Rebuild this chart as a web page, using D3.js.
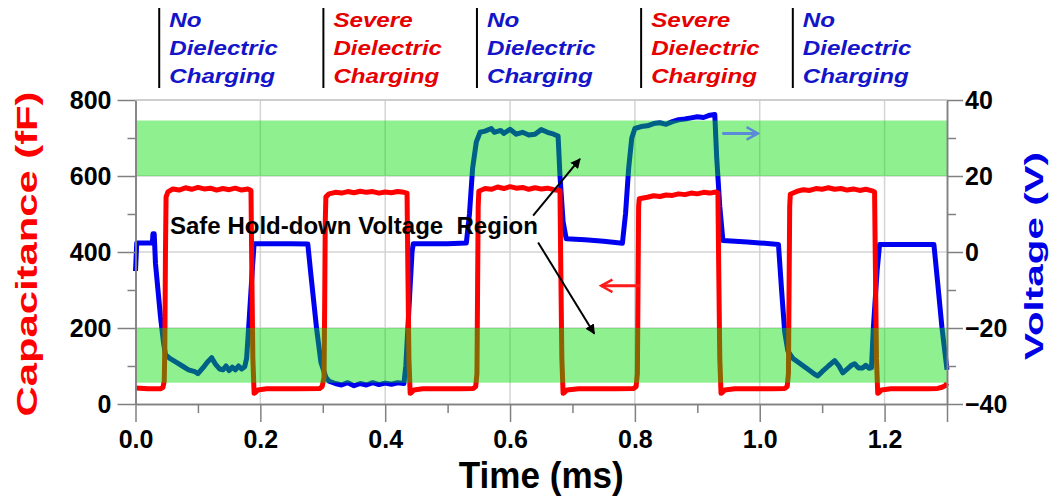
<!DOCTYPE html>
<html>
<head>
<meta charset="utf-8">
<script src="https://cdn.jsdelivr.net/npm/d3@7"></script>
<style>
  body { margin: 0; background: #fff; }
  text { font-family: "Liberation Sans", Arial, sans-serif; font-weight: bold; }
</style>
</head>
<body>
<div id="chart"></div>
<script>
// ---- data ----
var timeTicks = [0, 0.2, 0.4, 0.6, 0.8, 1.0, 1.2, 1.3];
var timeMinor = [0.1, 0.3, 0.5, 0.7, 0.9, 1.1];
var capTicks = [0, 200, 400, 600, 800];
var capMinor = [100, 300, 500, 700];
var voltTicks = [-40, -20, 0, 20, 40];
var voltMinor = [-30, -10, 10, 30];

// [time (ms), capacitance (fF)]
var capacitance = [
  [0,42],[0.02,40],[0.04,40],[0.044,44],[0.046,60],[0.047,150],[0.048,400],[0.049,545],[0.052,558],[0.06,566],[0.07,563],[0.08,569],[0.09,565],[0.10,570],[0.11,566],[0.12,568],[0.13,563],[0.14,567],[0.15,564],[0.16,568],[0.17,563],[0.18,566],[0.185,562],
  [0.186,400],[0.188,120],[0.190,28],[0.192,30],[0.196,37],[0.21,40],[0.26,40],[0.295,41],[0.299,46],[0.302,70],[0.303,250],[0.304,480],[0.305,545],[0.31,553],[0.32,557],[0.33,555],[0.34,559],[0.35,556],[0.36,560],[0.37,557],[0.38,559],[0.39,555],[0.40,558],[0.41,556],[0.42,559],[0.43,557],[0.435,555],
  [0.436,400],[0.438,120],[0.440,28],[0.442,30],[0.446,37],[0.46,40],[0.52,40],[0.541,41],[0.545,46],[0.547,80],[0.548,300],[0.549,520],[0.550,560],[0.56,567],[0.57,565],[0.58,571],[0.59,567],[0.60,572],[0.61,568],[0.62,570],[0.63,565],[0.64,569],[0.65,566],[0.66,568],[0.67,564],[0.68,562],
  [0.681,400],[0.683,120],[0.685,28],[0.687,30],[0.691,37],[0.71,40],[0.77,40],[0.798,41],[0.802,46],[0.804,80],[0.805,300],[0.806,520],[0.807,540],[0.82,544],[0.83,548],[0.84,546],[0.85,550],[0.86,549],[0.87,553],[0.88,551],[0.89,555],[0.90,553],[0.91,557],[0.92,555],[0.93,558],[0.933,556],
  [0.934,400],[0.936,120],[0.938,28],[0.940,30],[0.944,37],[0.96,40],[1.02,40],[1.040,41],[1.044,46],[1.046,80],[1.047,300],[1.048,520],[1.049,552],[1.06,560],[1.07,564],[1.08,562],[1.09,567],[1.10,565],[1.11,569],[1.12,565],[1.13,567],[1.14,563],[1.15,566],[1.16,562],[1.17,565],[1.18,561],[1.184,558],
  [1.185,400],[1.187,120],[1.189,28],[1.191,30],[1.195,37],[1.21,40],[1.27,40],[1.285,41],[1.292,44],[1.297,48],[1.3,55]
];

// [time (ms), voltage (V)]
var voltage = [
  [0,-5],[0.002,2.4],[0.015,2.4],[0.027,2.4],[0.028,4.8],[0.030,4.8],[0.032,-3],[0.040,-17],[0.045,-24],[0.048,-27],[0.055,-28],[0.065,-29],[0.075,-30],[0.085,-31],[0.095,-31.5],[0.100,-32],[0.108,-30.5],[0.115,-29],[0.122,-27.8],[0.128,-29.5],[0.135,-30.8],[0.14,-31],[0.145,-30],[0.15,-31.2],[0.155,-30.3],[0.16,-31],[0.165,-30],[0.17,-30.8],[0.175,-30.2],[0.178,-28],[0.182,-18],[0.187,-5],[0.190,2.2],
  [0.22,2.2],[0.25,2.2],[0.276,2.1],[0.281,-6],[0.290,-20],[0.297,-29],[0.305,-33],[0.31,-34],[0.32,-34.6],[0.33,-35],[0.34,-34.4],[0.35,-35.2],[0.36,-34.6],[0.37,-35],[0.38,-34.4],[0.39,-34.9],[0.40,-34.5],[0.41,-34.8],[0.42,-34.4],[0.43,-34.6],[0.433,-30],[0.438,-15],[0.443,0],[0.445,2.2],
  [0.50,2.2],[0.530,2.4],[0.535,10],[0.540,22],[0.546,29],[0.552,31.5],[0.56,31.8],[0.57,32.5],[0.575,31.5],[0.585,32],[0.59,31.2],[0.60,32.3],[0.61,31],[0.62,31.5],[0.63,30.8],[0.64,31],[0.65,32.2],[0.66,31.5],[0.67,31],[0.677,30.5],[0.680,20],[0.685,8],[0.690,3.5],
  [0.72,3.2],[0.75,2.8],[0.78,2.3],[0.785,10],[0.79,22],[0.795,30],[0.80,32.5],[0.81,33],[0.82,33.2],[0.83,33.8],[0.84,34],[0.85,33.6],[0.86,34.3],[0.87,34.8],[0.88,35],[0.89,35.3],[0.90,35.6],[0.91,35.4],[0.92,36],[0.928,36.2],[0.931,25],[0.936,12],[0.941,3.0],
  [0.98,2.6],[1.00,2.4],[1.030,2.0],[1.035,-10],[1.040,-21],[1.045,-26],[1.053,-28],[1.06,-28.8],[1.07,-30],[1.08,-31.2],[1.088,-32.2],[1.093,-32.6],[1.10,-31.5],[1.11,-30],[1.12,-28.6],[1.127,-30],[1.133,-31.8],[1.14,-30.8],[1.147,-29.8],[1.152,-29.4],[1.158,-30.5],[1.165,-30.5],[1.17,-29.8],[1.175,-30.6],[1.179,-30.5],[1.182,-20],[1.188,-5],[1.192,2.0],
  [1.25,2.0],[1.279,2.0],[1.285,-8],[1.292,-20],[1.3,-31]
];

// safe hold-down voltage bands (V)
var safeBands = [[20, 34.6], [-34.4, -20]];

// charging phases above the plot: divider time (ms) + label
var phaseTimes = [0.038, 0.301, 0.547, 0.81, 1.053];
var phaseLabels = ["No", "Severe", "No", "Severe", "No"];
var phaseColors = ["#1414c8", "#e60000", "#1414c8", "#e60000", "#1414c8"];

// ---- layout ----
var W = 1064, H = 499;
var x = d3.scaleLinear().domain([0, 1.3]).range([135.5, 947]);
var yC = d3.scaleLinear().domain([0, 800]).range([404, 100]);
var yV = d3.scaleLinear().domain([-40, 40]).range([404, 100]);

var svg = d3.select("#chart").append("svg")
    .attr("width", W).attr("height", H)
    .style("display", "block");

var defs = svg.append("defs");
defs.append("marker").attr("id", "headBlack")
    .attr("viewBox", "0 0 10 10").attr("refX", 9).attr("refY", 5)
    .attr("markerWidth", 5).attr("markerHeight", 5).attr("orient", "auto")
  .append("path").attr("d", "M0,0L10,5L0,10z").attr("fill", "#000");
defs.append("marker").attr("id", "headRed")
    .attr("viewBox", "0 0 12 12").attr("refX", 10).attr("refY", 6)
    .attr("markerWidth", 5).attr("markerHeight", 5).attr("orient", "auto")
  .append("path").attr("d", "M1,1L10,6L1,11").attr("fill", "none")
    .attr("stroke", "#ff1a1a").attr("stroke-width", 2);
defs.append("marker").attr("id", "headBlue")
    .attr("viewBox", "0 0 12 12").attr("refX", 10).attr("refY", 6)
    .attr("markerWidth", 5).attr("markerHeight", 5).attr("orient", "auto")
  .append("path").attr("d", "M1,1L10,6L1,11").attr("fill", "none")
    .attr("stroke", "#5b8ad8").attr("stroke-width", 2);

// grid
svg.append("g").selectAll("line").data(timeTicks.filter(function (d) { return d > 0 && d < 1.3; }))
  .enter().append("line")
    .attr("x1", function (d) { return x(d); }).attr("x2", function (d) { return x(d); })
    .attr("y1", yC(800)).attr("y2", yC(0))
    .attr("stroke", "#d4d4d4").attr("stroke-width", 1.5);
svg.append("g").selectAll("line").data(capTicks.filter(function (d) { return d > 0; }))
  .enter().append("line")
    .attr("x1", x(0)).attr("x2", x(1.3))
    .attr("y1", function (d) { return yC(d); }).attr("y2", function (d) { return yC(d); })
    .attr("stroke", "#d4d4d4").attr("stroke-width", 1.5);

// series
var line = d3.line()
    .x(function (d) { return x(d[0]); });

svg.append("path").datum(voltage)
    .attr("d", line.y(function (d) { return yV(d[1]); }))
    .attr("fill", "none").attr("stroke", "#0000f0")
    .attr("stroke-width", 5).attr("stroke-linejoin", "round");

svg.append("path").datum(capacitance)
    .attr("d", line.y(function (d) { return yC(d[1]); }))
    .attr("fill", "none").attr("stroke", "#ff0000")
    .attr("stroke-width", 5).attr("stroke-linejoin", "round");

// green bands drawn over the traces (semi transparent)
svg.append("g").selectAll("rect").data(safeBands)
  .enter().append("rect")
    .attr("x", x(0)).attr("width", x(1.3) - x(0))
    .attr("y", function (d) { return yV(d[1]); })
    .attr("height", function (d) { return yV(d[0]) - yV(d[1]); })
    .attr("fill", "#00dc00").attr("fill-opacity", 0.44);

// axes
function styleAxis(g) {
  g.selectAll(".domain").attr("stroke", "#808080").attr("stroke-width", 1.5);
  g.selectAll(".tick line").attr("stroke", "#808080").attr("stroke-width", 1.5);
  g.selectAll(".tick text").attr("fill", "#000").style("font-size", "25px")
    .style("font-family", "'Liberation Sans', Arial, sans-serif").style("font-weight", "bold");
}

svg.append("g").attr("transform", "translate(" + x(0) + ",0)")
    .call(d3.axisLeft(yC).tickValues(capMinor).tickSize(8).tickSizeOuter(0).tickFormat(""))
    .call(styleAxis);
svg.append("g").attr("transform", "translate(" + x(0) + ",0)")
    .call(d3.axisLeft(yC).tickValues(capTicks).tickSize(18).tickSizeOuter(0).tickPadding(6))
    .call(styleAxis);

svg.append("g").attr("transform", "translate(" + x(1.3) + ",0)")
    .call(d3.axisRight(yV).tickValues(voltMinor).tickSize(9).tickSizeOuter(0).tickFormat(""))
    .call(styleAxis);
svg.append("g").attr("transform", "translate(" + x(1.3) + ",0)")
    .call(d3.axisRight(yV).tickValues(voltTicks).tickSize(16).tickSizeOuter(0).tickPadding(2))
    .call(styleAxis);

svg.append("g").attr("transform", "translate(0," + yC(0) + ")")
    .call(d3.axisBottom(x).tickValues(timeMinor).tickSize(9).tickSizeOuter(0).tickFormat(""))
    .call(styleAxis);
svg.append("g").attr("transform", "translate(0," + yC(0) + ")")
    .call(d3.axisBottom(x).tickValues(timeTicks).tickSize(18).tickSizeOuter(0).tickPadding(8)
      .tickFormat(function (d) { return d === 1.3 ? "" : d3.format(".1f")(d); }))
    .call(styleAxis);

// top frame line
svg.append("line")
    .attr("x1", x(0)).attr("x2", x(1.3)).attr("y1", yC(800)).attr("y2", yC(800))
    .attr("stroke", "#c8c8c8").attr("stroke-width", 1.5);

// axis titles
svg.append("text")
    .attr("transform", "translate(37," + ((yC(0) + yC(800)) / 2 + 2) + ") rotate(-90)")
    .attr("text-anchor", "middle").attr("fill", "#ff0000")
    .attr("textLength", 325).attr("lengthAdjust", "spacingAndGlyphs")
    .style("font-size", "30px")
    .text("Capacitance (fF)");

svg.append("text")
    .attr("transform", "translate(1043," + 256 + ") rotate(-90)")
    .attr("text-anchor", "middle").attr("fill", "#0000e6")
    .attr("textLength", 208).attr("lengthAdjust", "spacingAndGlyphs")
    .style("font-size", "25px")
    .text("Voltage (V)");

svg.append("text")
    .attr("x", (x(0) + x(1.3)) / 2 + 0).attr("y", 488)
    .attr("text-anchor", "middle").attr("fill", "#000")
    .attr("textLength", 165).attr("lengthAdjust", "spacingAndGlyphs")
    .style("font-size", "36px")
    .text("Time (ms)");

// phase labels at the top
var phase = svg.append("g").selectAll("g").data(phaseTimes)
  .enter().append("g")
    .attr("transform", function (d) { return "translate(" + x(d) + ",0)"; });
phase.append("line")
    .attr("x1", 0).attr("x2", 0).attr("y1", 8).attr("y2", 88)
    .attr("stroke", "#000").attr("stroke-width", 2);
var phaseText = phase.append("g")
    .attr("transform", "translate(10,0) scale(1.15,1)")
  .append("text")
    .style("font-size", "21px").style("font-style", "italic")
    .attr("fill", function (d, i) { return phaseColors[i]; });
phaseText.append("tspan").attr("x", 0).attr("y", 27)
    .text(function (d, i) { return phaseLabels[i]; });
phaseText.append("tspan").attr("x", 0).attr("y", 55).text("Dielectric");
phaseText.append("tspan").attr("x", 0).attr("y", 83).text("Charging");

// "Safe Hold-down Voltage Region" with arrows to both bands
svg.append("text")
    .attr("x", x(0.0552)).attr("y", yC(447))
    .attr("fill", "#000").attr("xml:space", "preserve")
    .style("white-space", "pre")
    .attr("textLength", 368).attr("lengthAdjust", "spacingAndGlyphs")
    .style("font-size", "23px")
    .text("Safe Hold-down Voltage  Region");

svg.append("line")
    .attr("x1", x(0.637)).attr("y1", yC(496)).attr("x2", x(0.712)).attr("y2", yC(645))
    .attr("stroke", "#000").attr("stroke-width", 2).attr("marker-end", "url(#headBlack)");
svg.append("line")
    .attr("x1", x(0.645)).attr("y1", yC(425)).attr("x2", x(0.735)).attr("y2", yC(185))
    .attr("stroke", "#000").attr("stroke-width", 2).attr("marker-end", "url(#headBlack)");

// axis-pointer arrows
svg.append("line")
    .attr("x1", x(0.808)).attr("y1", yC(311)).attr("x2", x(0.746)).attr("y2", yC(311))
    .attr("stroke", "#ff1a1a").attr("stroke-width", 3).attr("marker-end", "url(#headRed)");
svg.append("line")
    .attr("x1", x(0.94)).attr("y1", yV(31.2)).attr("x2", x(0.997)).attr("y2", yV(31.2))
    .attr("stroke", "#5b8ad8").attr("stroke-width", 3).attr("marker-end", "url(#headBlue)");
</script>
</body>
</html>
